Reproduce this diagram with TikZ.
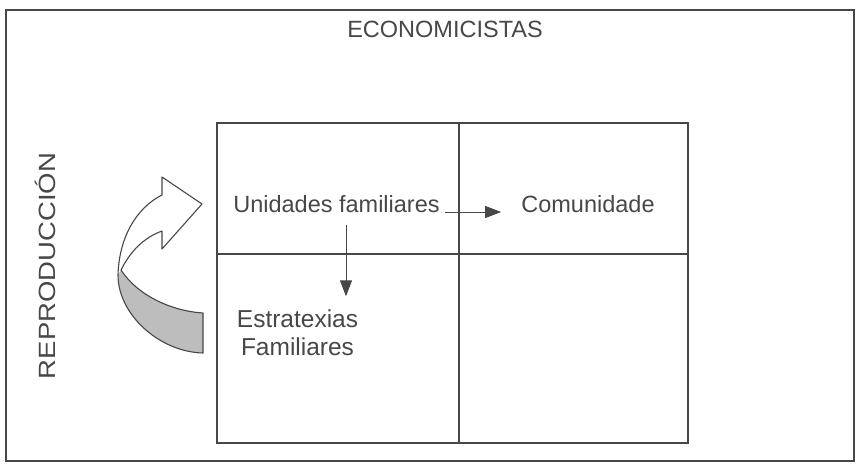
\documentclass[tikz,border=0pt]{standalone}
\usepackage{fontspec}
\setmainfont{Liberation Sans}
\usetikzlibrary{arrows.meta}
\definecolor{ink}{gray}{0.28}
\definecolor{dotfill}{gray}{0.74}
\begin{document}
\begin{tikzpicture}[x=1pt,y=-1pt,
  lbl/.style={inner sep=0pt, text=ink, font=\fontsize{23.5}{28}\selectfont},
  frameline/.style={draw=ink, line width=1.3pt},
  gridline/.style={draw=ink, line width=1.2pt},
  arr/.style={draw=ink, line width=1pt, -{Triangle[length=16pt,width=12pt]}},
  ribbon/.style={draw=ink, line width=1.1pt, line join=round}]
\useasboundingbox (0,0) rectangle (858,464);
% outer frame
\draw[frameline] (6,10) rectangle (854,461);
% grid
\draw[gridline] (217,123) rectangle (688,443);
\draw[gridline] (459,123) -- (459,443);
\draw[gridline] (217,254) -- (688,254);
% texts
\node[lbl, anchor=base] (title) at (445,37) {ECONOMICISTAS};
\node[lbl, anchor=base, rotate=90] (rep) at (55,266) {\scalebox{1.17}[1]{REPRODUCCIÓN}};
\node[lbl, anchor=base] (unid) at (336.5,212) {Unidades familiares};
\node[lbl, anchor=base] (comu) at (588,212) {Comunidade};
\node[lbl, align=center, font=\fontsize{24.5}{28}\selectfont] (estr) at (297.5,332.5) {Estratexias\\Familiares};
% connectors
\draw[arr, shorten <=5pt, shorten >=20pt] (unid.base east) -- (comu.base west);
\draw[arr, shorten <=13pt, shorten >=13pt] ([xshift=9.5pt]unid.south) -- ([xshift=9.5pt]unid.south |- estr.north);
% curved ribbon arrow
\fill[dotfill] (121,270) .. controls (138,296) and (172,311) .. (203,313)
  -- (203,353) .. controls (160,352) and (118,315) .. (118,275) -- cycle;
\draw[ribbon] (203,313) .. controls (172,311) and (138,296) .. (121,270)
  .. controls (130,252) and (143,238) .. (162,231)
  -- (162,249) -- (202,204) -- (162,177) -- (162,195)
  .. controls (136,208) and (119,238) .. (118,275)
  .. controls (118,315) and (160,352) .. (203,353) -- cycle;
\end{tikzpicture}
\end{document}
